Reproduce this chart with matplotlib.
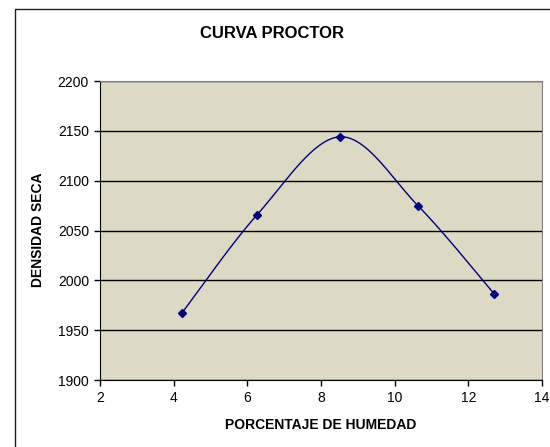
import matplotlib.pyplot as plt
import numpy as np
from matplotlib.patches import Rectangle

humedad = [4.22, 6.27, 8.51, 10.63, 12.71]
densidad = [1967, 2066, 2144, 2075, 1986]


def excel_smooth(x, y, n=40):
    # Excel-style smoothed line: cubic Bezier segments, control points from neighbours
    x = np.asarray(x, float)
    y = np.asarray(y, float)
    px = np.concatenate([[x[0]], x, [x[-1]]])
    py = np.concatenate([[y[0]], y, [y[-1]]])
    xs, ys = [], []
    t = np.linspace(0, 1, n)
    for i in range(1, len(x)):
        p0 = np.array([px[i], py[i]])
        p3 = np.array([px[i + 1], py[i + 1]])
        c1 = p0 + (p3 - np.array([px[i - 1], py[i - 1]])) / 6
        c2 = p3 - (np.array([px[i + 2], py[i + 2]]) - p0) / 6
        b = ((1 - t) ** 3)[:, None] * p0 + (3 * (1 - t) ** 2 * t)[:, None] * c1 \
            + (3 * (1 - t) * t ** 2)[:, None] * c2 + (t ** 3)[:, None] * p3
        xs.extend(b[:, 0])
        ys.extend(b[:, 1])
    return np.array(xs), np.array(ys)


plt.rcParams['font.family'] = ['Liberation Sans', 'DejaVu Sans']

fig = plt.figure(figsize=(5.5, 4.47), dpi=100)
fig.patch.set_facecolor('white')
fig.patches.append(Rectangle((15 / 550, -0.1), 1.2, 1 - 9 / 447 + 0.1, transform=fig.transFigure,
                             fill=False, edgecolor='#202020', linewidth=1.0))

ax = fig.add_axes([100 / 550, 1 - 380 / 447, 442 / 550, 299 / 447])
ax.set_facecolor('#DDD9C3')

sx, sy = excel_smooth(humedad, densidad)
ax.plot(sx, sy, color='#000080', linewidth=1.0, zorder=3)
ax.plot(humedad, densidad, linestyle='none', marker='D', markersize=4,
        color='#000080', zorder=4)

ax.set_xlim(2, 14)
ax.set_ylim(1900, 2200)
ax.set_xticks(np.arange(2, 15, 2))
ax.set_yticks(np.arange(1900, 2201, 50))
ax.grid(axis='y', color='black', linewidth=1.0)
ax.set_axisbelow(True)

for s in ['top', 'right']:
    ax.spines[s].set_color('#808080')
for s in ['left', 'bottom']:
    ax.spines[s].set_color('black')
ax.tick_params(direction='out', length=4, width=1, labelsize=10, pad=4)

fig.text(272 / 550, 1 - 33 / 447, 'CURVA PROCTOR', ha='center', va='center',
         fontsize=12, fontweight='bold')
fig.text(321 / 550, 1 - 425 / 447, 'PORCENTAJE DE HUMEDAD', ha='center', va='center',
         fontsize=10, fontweight='bold')
fig.text(38 / 550, 1 - 230 / 447, 'DENSIDAD SECA', ha='center', va='center',
         rotation=90, fontsize=10, fontweight='bold')

fig.savefig('out.png', dpi=100)
